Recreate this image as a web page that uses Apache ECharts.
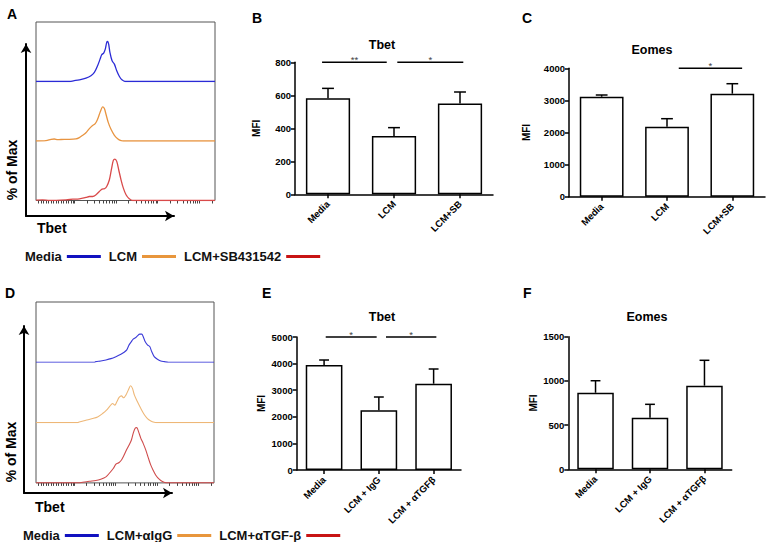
<!DOCTYPE html>
<html>
<head>
<meta charset="utf-8">
<title>Tbet / Eomes MFI</title>
<script src="https://cdn.jsdelivr.net/npm/echarts@6.0.0/dist/echarts.min.js"></script>
<style>
  html, body { margin: 0; padding: 0; background: #fff; }
  #chart { width: 767px; height: 542px; }
</style>
</head>
<body>
<div id="chart"></div>
<script>
// ---- histogram overlays (x: channel 0-1000, y: % of band height) ----
const histNamesA = ['Media', 'LCM', 'LCM+SB431542'];
const histNamesD = ['Media', 'LCM+αIgG', 'LCM+αTGF-β'];

const tbetA_media = [[0,0],[190,0],[209,1.1],[242,2.8],[279,5.6],[307,9.6],[326,15.2],[344,26.4],[358,37.6],[367,44.9],[378,47.8],[387,54.5],[395,65.7],[400,67.4],[406,62.9],[413,48.9],[425,34.8],[438,29.2],[451,18],[466,8.4],[480,2.8],[499,0],[1000,0]];
const tbetA_lcm = [[0,0],[56,0.6],[84,2.8],[102,3.4],[121,2.2],[158,2.8],[186,2.8],[223,3.4],[242,5.6],[261,9.6],[279,14],[298,20.8],[313,25.3],[331,29.2],[344,36.5],[354,44.9],[363,52.2],[372,57.3],[382,54.5],[391,44.9],[404,30.9],[419,19.7],[438,9.6],[456,3.9],[475,0.6],[488,0],[1000,0]];
const tbetA_sb = [[0,0.6],[37,1.1],[75,0],[168,1.1],[205,2.2],[242,2.8],[279,5.1],[298,6.7],[317,6.7],[335,9.6],[354,15.2],[369,19.1],[382,19.7],[395,23.6],[410,34.8],[421,51.7],[432,67.4],[441,69.7],[451,65.7],[462,51.7],[475,34.8],[488,20.8],[503,9.6],[521,2.8],[540,0],[1000,0]];

const tbetD_media = [[0,0],[327,0],[336,1.1],[364,2.2],[393,3.9],[421,6.1],[449,9.4],[477,13.3],[495,16.7],[510,20.6],[523,28.9],[536,34.4],[546,38.3],[561,41.1],[570,43.9],[583,46.7],[594,46.7],[602,42.8],[613,34.4],[626,28.9],[639,26.1],[650,17.8],[664,9.4],[682,5],[701,2.2],[720,1.1],[744,0],[1000,0]];
const tbetD_igg = [[0,0],[234,0],[243,1.1],[280,3.9],[318,6.7],[346,9.4],[374,15],[396,20.6],[415,27.2],[430,31.7],[443,28.9],[454,34.4],[467,41.7],[480,44.4],[492,41.1],[505,45.6],[520,55],[531,61.1],[542,56.7],[553,45.6],[570,34.4],[589,23.3],[607,13.9],[626,6.7],[645,2.8],[664,0.6],[677,0],[1000,0]];
const tbetD_tgf = [[0,0],[243,0],[262,1.1],[299,2.8],[336,3.9],[364,6.1],[393,10],[411,15.6],[434,23.9],[449,31.1],[467,33.9],[482,38.9],[495,46.1],[508,54.4],[523,62.8],[536,71.1],[546,82.2],[557,90.6],[566,91.7],[576,85],[589,73.9],[602,65.6],[617,54.4],[632,40.6],[645,29.4],[658,21.1],[673,12.8],[692,6.1],[710,2.2],[733,0],[1000,0]];

// decade positions of the biexponential Tbet axis (channels)
const histDecades = [214, 447, 680, 912];

// ---- MFI bar panels ----
const catsSB = ['Media', 'LCM', 'LCM+SB'];
const catsTGF = ['Media', 'LCM + IgG', 'LCM + αTGFβ'];

const tbetB_mean = [582, 353, 551];
const tbetB_sem = [60, 51, 69];
const tbetB_sig = [[-0.09, 0.89, 800], [1.05, 2.05, 800]];
const tbetB_sigLabels = ['**', '*'];

const eomesC_mean = [3115, 2181, 3209];
const eomesC_sem = [53, 249, 311];
const eomesC_sig = [[1.18, 2.15, 4000]];
const eomesC_sigLabels = ['*'];

const tbetE_mean = [3947, 2244, 3244];
const tbetE_sem = [188, 500, 553];
const tbetE_sig = [[0.03, 0.96, 5000], [1.13, 2.05, 5000]];
const tbetE_sigLabels = ['*', '*'];

const eomesF_mean = [866, 584, 946];
const eomesF_sem = [136, 151, 287];

const FONT = '"Liberation Sans", Arial, sans-serif';

const histTicks = [];
for (let c = 14; c < histDecades[0]; c += 14) histTicks.push(c);
histDecades.forEach(d => {
  histTicks.push(d);
  for (let m = 2; m <= 9; m++) {
    const v = d + 233 * Math.log10(m);
    if (v < 1000) histTicks.push(Math.round(v));
  }
});

const grids = [], xAxes = [], yAxes = [], series = [];

function addGrid(g) {
  grids.push(g);
  return grids.length - 1;
}

function hiddenAxes(gi) {
  xAxes.push({ gridIndex: gi, type: 'value', min: 0, max: 1, show: false });
  yAxes.push({ gridIndex: gi, type: 'value', min: 0, max: 1, show: false });
}

function histPanel(o) {
  o.bandTops.forEach((top, i) => {
    const gi = addGrid({ left: o.left, top: top, width: o.width, height: o.bandH });
    const xi = xAxes.length, yi = yAxes.length;
    const isBottom = i === o.bandTops.length - 1;
    xAxes.push({
      gridIndex: gi, type: 'value', min: 0, max: 1000, show: isBottom,
      axisLine: { show: false }, axisLabel: { show: false }, splitLine: { show: false },
      axisTick: { show: isBottom, customValues: histTicks, length: 3, lineStyle: { color: '#444', width: 1 } }
    });
    yAxes.push({ gridIndex: gi, type: 'value', min: 0, max: 100, show: false });
    series.push({
      type: 'line', name: o.names[i], xAxisIndex: xi, yAxisIndex: yi, data: o.curves[i],
      showSymbol: false, smooth: 0.3, silent: true,
      lineStyle: { color: o.colors[i], width: o.lineWidth }, itemStyle: { color: o.colors[i] }
    });
  });
  // frame round the overlay
  const box = addGrid({
    left: o.left, top: o.bandTops[0], width: o.width, height: o.bandH * o.bandTops.length,
    show: true, borderColor: '#555', borderWidth: 1, backgroundColor: 'transparent'
  });
  hiddenAxes(box);
  // arrow axes
  const ag = addGrid(o.arrows);
  const arrowLine = { show: true, onZero: false, symbol: ['none', 'arrow'], symbolSize: [8, 9], lineStyle: { color: '#000', width: 2 } };
  xAxes.push({ gridIndex: ag, type: 'value', min: 0, max: 1, axisLine: arrowLine, axisTick: { show: false }, axisLabel: { show: false }, splitLine: { show: false } });
  yAxes.push({ gridIndex: ag, type: 'value', min: 0, max: 1, axisLine: arrowLine, axisTick: { show: false }, axisLabel: { show: false }, splitLine: { show: false } });
}

function errRender(params, api) {
  const x = api.value(0), m = api.value(1), e = api.value(2);
  const p0 = api.coord([x, m]);
  const p1 = api.coord([x, m + e]);
  const half = api.size([1, 0])[0] * 0.09;
  const st = { stroke: '#000', lineWidth: 1.5 };
  return {
    type: 'group', children: [
      { type: 'line', shape: { x1: p0[0], y1: p0[1], x2: p1[0], y2: p1[1] }, style: st },
      { type: 'line', shape: { x1: p1[0] - half, y1: p1[1], x2: p1[0] + half, y2: p1[1] }, style: st }
    ]
  };
}

function sigRender(labels) {
  return function (params, api) {
    const a = api.coord([api.value(0), api.value(2)]);
    const b = api.coord([api.value(1), api.value(2)]);
    return {
      type: 'group', children: [
        { type: 'line', shape: { x1: a[0], y1: a[1], x2: b[0], y2: b[1] }, style: { stroke: '#000', lineWidth: 1.5 } },
        { type: 'text', x: (a[0] + b[0]) / 2, y: a[1] - 3,
          style: { text: labels[params.dataIndex], textAlign: 'center', textVerticalAlign: 'middle', fill: '#444', font: '9.5px ' + FONT } }
      ]
    };
  };
}

function barPanel(o) {
  const gi = addGrid({ left: o.left, top: o.top, width: o.width, height: o.height });
  const xc = xAxes.length;
  xAxes.push({
    gridIndex: gi, type: 'category', data: o.cats,
    axisLine: { show: true, onZero: false, lineStyle: { color: '#000', width: 1.5 } },
    axisTick: { show: true, alignWithLabel: true, length: 4, lineStyle: { color: '#000', width: 1.5 } },
    axisLabel: { rotate: 45, interval: 0, margin: 8, color: '#000', fontWeight: 'bold', fontSize: 9.5, fontFamily: FONT }
  });
  const xv = xAxes.length;
  xAxes.push({ gridIndex: gi, type: 'value', min: -0.5, max: 2.5, show: false });
  const yi = yAxes.length;
  yAxes.push({
    gridIndex: gi, type: 'value', min: 0, max: o.max, interval: o.step,
    name: 'MFI', nameLocation: 'middle', nameGap: o.nameGap,
    nameTextStyle: { color: '#000', fontWeight: 'bold', fontSize: 10, fontFamily: FONT },
    axisLine: { show: true, onZero: false, lineStyle: { color: '#000', width: 1.5 } },
    axisTick: { show: true, length: 4, lineStyle: { color: '#000', width: 1.5 } },
    axisLabel: { color: '#000', fontWeight: 'bold', fontSize: 9.5, fontFamily: FONT, margin: 4, formatter: v => String(v) },
    splitLine: { show: false }
  });
  series.push({
    type: 'bar', xAxisIndex: xc, yAxisIndex: yi, data: o.means, barWidth: '67%', silent: true,
    itemStyle: { color: '#fff', borderColor: '#000', borderWidth: 1.5 }
  });
  series.push({
    type: 'custom', xAxisIndex: xv, yAxisIndex: yi, silent: true, clip: false,
    data: o.means.map((m, i) => [i, m, o.sem[i]]), encode: { x: 0, y: 1 }, renderItem: errRender
  });
  if (o.sig) {
    series.push({
      type: 'custom', xAxisIndex: xv, yAxisIndex: yi, silent: true, clip: false,
      data: o.sig, encode: { x: [0, 1], y: 2 }, renderItem: sigRender(o.sigLabels)
    });
  }
}

histPanel({
  left: 36, width: 179, bandTops: [22, 81.5, 141], bandH: 59.5,
  names: histNamesA, curves: [tbetA_media, tbetA_lcm, tbetA_sb],
  colors: ['#2b2bd6', '#e89440', '#d94a4a'], lineWidth: 1.3,
  arrows: { left: 26, top: 44, width: 148, height: 172 }
});
histPanel({
  left: 36, width: 178, bandTops: [302, 362.3, 422.6], bandH: 60.3,
  names: histNamesD, curves: [tbetD_media, tbetD_igg, tbetD_tgf],
  colors: ['#3a3ad8', '#eeb777', '#cf4b4b'], lineWidth: 1.1,
  arrows: { left: 24, top: 326, width: 148, height: 167 }
});

barPanel({ left: 295, top: 62.3, width: 198, height: 132, cats: catsSB, max: 800, step: 200, nameGap: 34,
  means: tbetB_mean, sem: tbetB_sem, sig: tbetB_sig, sigLabels: tbetB_sigLabels });
barPanel({ left: 569, top: 68.3, width: 196, height: 128.4, cats: catsSB, max: 4000, step: 1000, nameGap: 38,
  means: eomesC_mean, sem: eomesC_sem, sig: eomesC_sig, sigLabels: eomesC_sigLabels });
barPanel({ left: 296.7, top: 337, width: 164.3, height: 133, cats: catsTGF, max: 5000, step: 1000, nameGap: 30,
  means: tbetE_mean, sem: tbetE_sem, sig: tbetE_sig, sigLabels: tbetE_sigLabels });
barPanel({ left: 568.3, top: 336.7, width: 163.4, height: 132.6, cats: catsTGF, max: 1500, step: 500, nameGap: 30,
  means: eomesF_mean, sem: eomesF_sem });

function txt(text, x, y, size, extra) {
  return Object.assign({
    type: 'text', x: x, y: y, silent: true,
    style: { text: text, fill: '#000', font: 'bold ' + size + 'px ' + FONT, textAlign: 'left', textVerticalAlign: 'middle' }
  }, extra || {});
}
function ctxt(text, x, y, size) {
  const t = txt(text, x, y, size);
  t.style.textAlign = 'center';
  return t;
}

const graphics = [
  txt('A', 7, 14, 14), txt('B', 252, 18, 14), txt('C', 522, 18, 14),
  txt('D', 5, 293, 14), txt('E', 262, 293, 14), txt('F', 523, 293, 14),
  ctxt('Tbet', 382, 44.5, 12.5), ctxt('Eomes', 652, 50, 12.5),
  ctxt('Tbet', 382, 316.7, 12.5), ctxt('Eomes', 647, 316.7, 12.5),
  txt('Tbet', 37, 228, 14), txt('Tbet', 35, 507, 14),
  Object.assign(ctxt('% of Max', 12, 170, 14), { rotation: Math.PI / 2 }),
  Object.assign(ctxt('% of Max', 11, 452, 14), { rotation: Math.PI / 2 })
];

const legendText = { color: '#111', fontWeight: 'bold', fontSize: 13, fontFamily: FONT };
const legendBase = { align: 'right', icon: 'rect', itemWidth: 34, itemHeight: 3, itemGap: 8, selectedMode: false, textStyle: legendText };

const chart = echarts.init(document.getElementById('chart'), null, { renderer: 'svg' });
chart.setOption({
  backgroundColor: '#fff',
  animation: false,
  grid: grids,
  xAxis: xAxes,
  yAxis: yAxes,
  series: series,
  graphic: graphics,
  legend: [
    Object.assign({ left: 20, top: 245, data: [
      { name: histNamesA[0], itemStyle: { color: '#1111c0' } },
      { name: histNamesA[1], itemStyle: { color: '#e8963c' } },
      { name: histNamesA[2], itemStyle: { color: '#c81414' } }
    ] }, legendBase),
    Object.assign({ left: 18, top: 524, data: [
      { name: histNamesD[0], itemStyle: { color: '#1111c0' } },
      { name: histNamesD[1], itemStyle: { color: '#e8963c' } },
      { name: histNamesD[2], itemStyle: { color: '#c81414' } }
    ] }, legendBase)
  ]
});
</script>
</body>
</html>
